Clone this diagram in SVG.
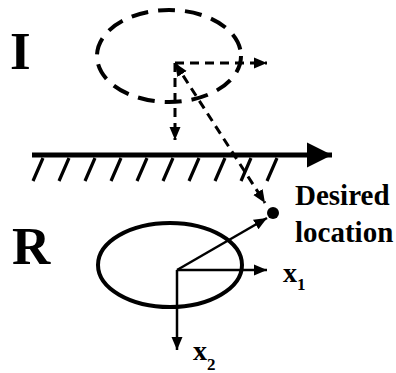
<svg xmlns="http://www.w3.org/2000/svg" width="396" height="373" viewBox="0 0 396 373">
<defs>
<marker id="ah" markerUnits="userSpaceOnUse" markerWidth="14" markerHeight="12" refX="13" refY="6" orient="auto-start-reverse" viewBox="0 0 14 12">
<path d="M0,0.5 L13,6 L0,11.5 Z" fill="#000"/>
</marker>
<marker id="big" markerUnits="userSpaceOnUse" markerWidth="26" markerHeight="26" refX="25" refY="13" orient="auto" viewBox="0 0 26 26">
<path d="M0,0.5 L25,13 L0,25.5 Z" fill="#000"/>
</marker>
<style>
.lbl{font-family:"Times New Roman","Liberation Serif",Times,serif;font-weight:bold;fill:#000}
.dash{fill:none;stroke:#000;stroke-width:3;stroke-dasharray:9 6}
.solid{fill:none;stroke:#000;stroke-width:2.5}
</style>
</defs>
<g id="frame-I">
<ellipse cx="169" cy="56" rx="72" ry="46" fill="none" stroke="#000" stroke-width="4" stroke-dasharray="17 10"/>
<text class="lbl" x="10" y="69" font-size="53">I</text>
</g>
<g id="ground">
<line x1="32" y1="155" x2="332" y2="155" stroke="#000" stroke-width="5" marker-end="url(#big)"/>
<path d="M33,181 L43,158 M59,181 L69,158 M85,181 L95,158 M111,181 L121,158 M137,181 L147,158 M163,181 L173,158 M189,181 L199,158 M215,181 L225,158 M241,181 L251,158 M267,181 L277,158" stroke="#000" stroke-width="3.2" fill="none"/>
</g>
<g id="frame-R">
<ellipse cx="170" cy="265" rx="72" ry="42" fill="none" stroke="#000" stroke-width="4"/>
<text class="lbl" x="12" y="264" font-size="53">R</text>
</g>
<g id="desired-location">
<circle cx="273" cy="213" r="6" fill="#000"/>
<text class="lbl" font-size="29"><tspan x="295" y="205">Desired</tspan><tspan x="295" y="242">location</tspan></text>
</g>
<g id="axis-labels">
<text class="lbl" x="283" y="282" font-size="28">x<tspan font-size="17" dy="8">1</tspan></text>
<text class="lbl" x="193" y="360" font-size="28">x<tspan font-size="17" dy="10">2</tspan></text>
</g>
<g id="connectors">
<line class="dash" x1="175" y1="63" x2="267" y2="63" marker-end="url(#ah)"/>
<line class="dash" x1="175" y1="63" x2="175" y2="140" marker-end="url(#ah)"/>
<line class="dash" x1="175" y1="63" x2="265" y2="203" marker-start="url(#ah)" marker-end="url(#ah)"/>
<line class="solid" x1="177" y1="270" x2="267" y2="270" marker-end="url(#ah)"/>
<line class="solid" x1="177" y1="270" x2="177" y2="350" marker-end="url(#ah)"/>
<line class="solid" x1="177" y1="270" x2="267" y2="218" marker-end="url(#ah)"/>
</g>
</svg>
